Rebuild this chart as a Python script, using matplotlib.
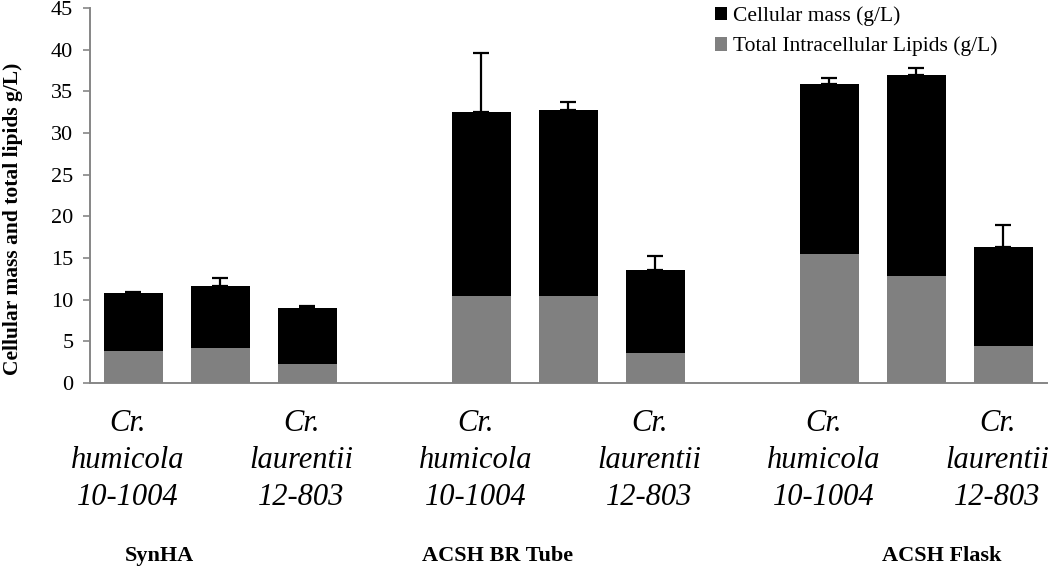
import matplotlib
matplotlib.use("Agg")
import matplotlib.pyplot as plt
import matplotlib.transforms as mtransforms

plt.rcParams["font.family"] = ["Liberation Serif", "DejaVu Serif"]

# values
conditions = ["SynHA", "ACSH BR Tube", "ACSH Flask"]
cell_mass = [10.8, 11.6, 9.0, 32.5, 32.8, 13.6, 35.9, 37.0, 16.3]
cell_mass_err = [0.15, 0.95, 0.3, 7.1, 0.9, 1.6, 0.75, 0.8, 2.7]
lipids = [3.8, 4.25, 2.3, 10.45, 10.45, 3.65, 15.45, 12.9, 4.45]

strain_labels = ["Cr.\nhumicola\n10-1004", "Cr.\nlaurentii\n12-803"] * 3
label_slots = [0, 2, 4, 6, 8, 10]
condition_x = [0.3, 4.18, 9.29]

# 3 bars per condition, one empty slot between conditions
slots = [g * 4 + i for g in range(3) for i in range(3)]

gray = "#808080"
axis_gray = "#868686"

fig = plt.figure(figsize=(10.5, 5.68), dpi=100)
ax = fig.add_axes([0.0857, 0.3257, 0.9113, 0.6602])

ax.bar(slots, cell_mass, width=0.68, color="black", label="Cellular mass (g/L)", zorder=2)
ax.bar(slots, lipids, width=0.68, color=gray, label="Total Intracellular Lipids (g/L)", zorder=3)
ax.errorbar(
    slots,
    cell_mass,
    yerr=[[0] * len(cell_mass), cell_mass_err],
    fmt="none",
    ecolor="black",
    elinewidth=1.6,
    capsize=5.5,
    capthick=1.6,
    zorder=4,
)

ax.set_xlim(-0.5, 10.5)
ax.set_ylim(0, 45)
ax.set_yticks(range(0, 46, 5))
ax.tick_params(axis="y", direction="out", length=5, width=1.2, color=axis_gray, labelsize=16, pad=7)

ax.set_xticks(label_slots, strain_labels)
ax.tick_params(axis="x", length=0, labelsize=22, pad=19)
shift = mtransforms.ScaledTranslation(-0.06, 0, fig.dpi_scale_trans)
for lbl in ax.get_xticklabels():
    lbl.set_fontstyle("italic")
    lbl.set_linespacing(1.36)
    lbl.set_transform(lbl.get_transform() + shift)

for side in ["top", "right"]:
    ax.spines[side].set_visible(False)
for side in ["left", "bottom"]:
    ax.spines[side].set_color(axis_gray)
    ax.spines[side].set_linewidth(1.4)

trans = mtransforms.blended_transform_factory(ax.transData, ax.transAxes)
for name, x in zip(conditions, condition_x):
    ax.text(x, -0.461, name, transform=trans, ha="center", va="center",
            fontsize=16, fontweight="bold")

fig.text(0.012, 0.614, "Cellular mass and total lipids g/L)", rotation=90,
         ha="center", va="center", fontsize=15.5, fontweight="bold")

fig.legend(
    loc="upper left",
    bbox_to_anchor=(0.671, 1.008),
    frameon=False,
    fontsize=15.5,
    handlelength=0.55,
    handleheight=0.6,
    handletextpad=0.25,
    labelspacing=0.5,
    borderpad=0.0,
)

fig.savefig("out.png", dpi=100)
plt.close(fig)
